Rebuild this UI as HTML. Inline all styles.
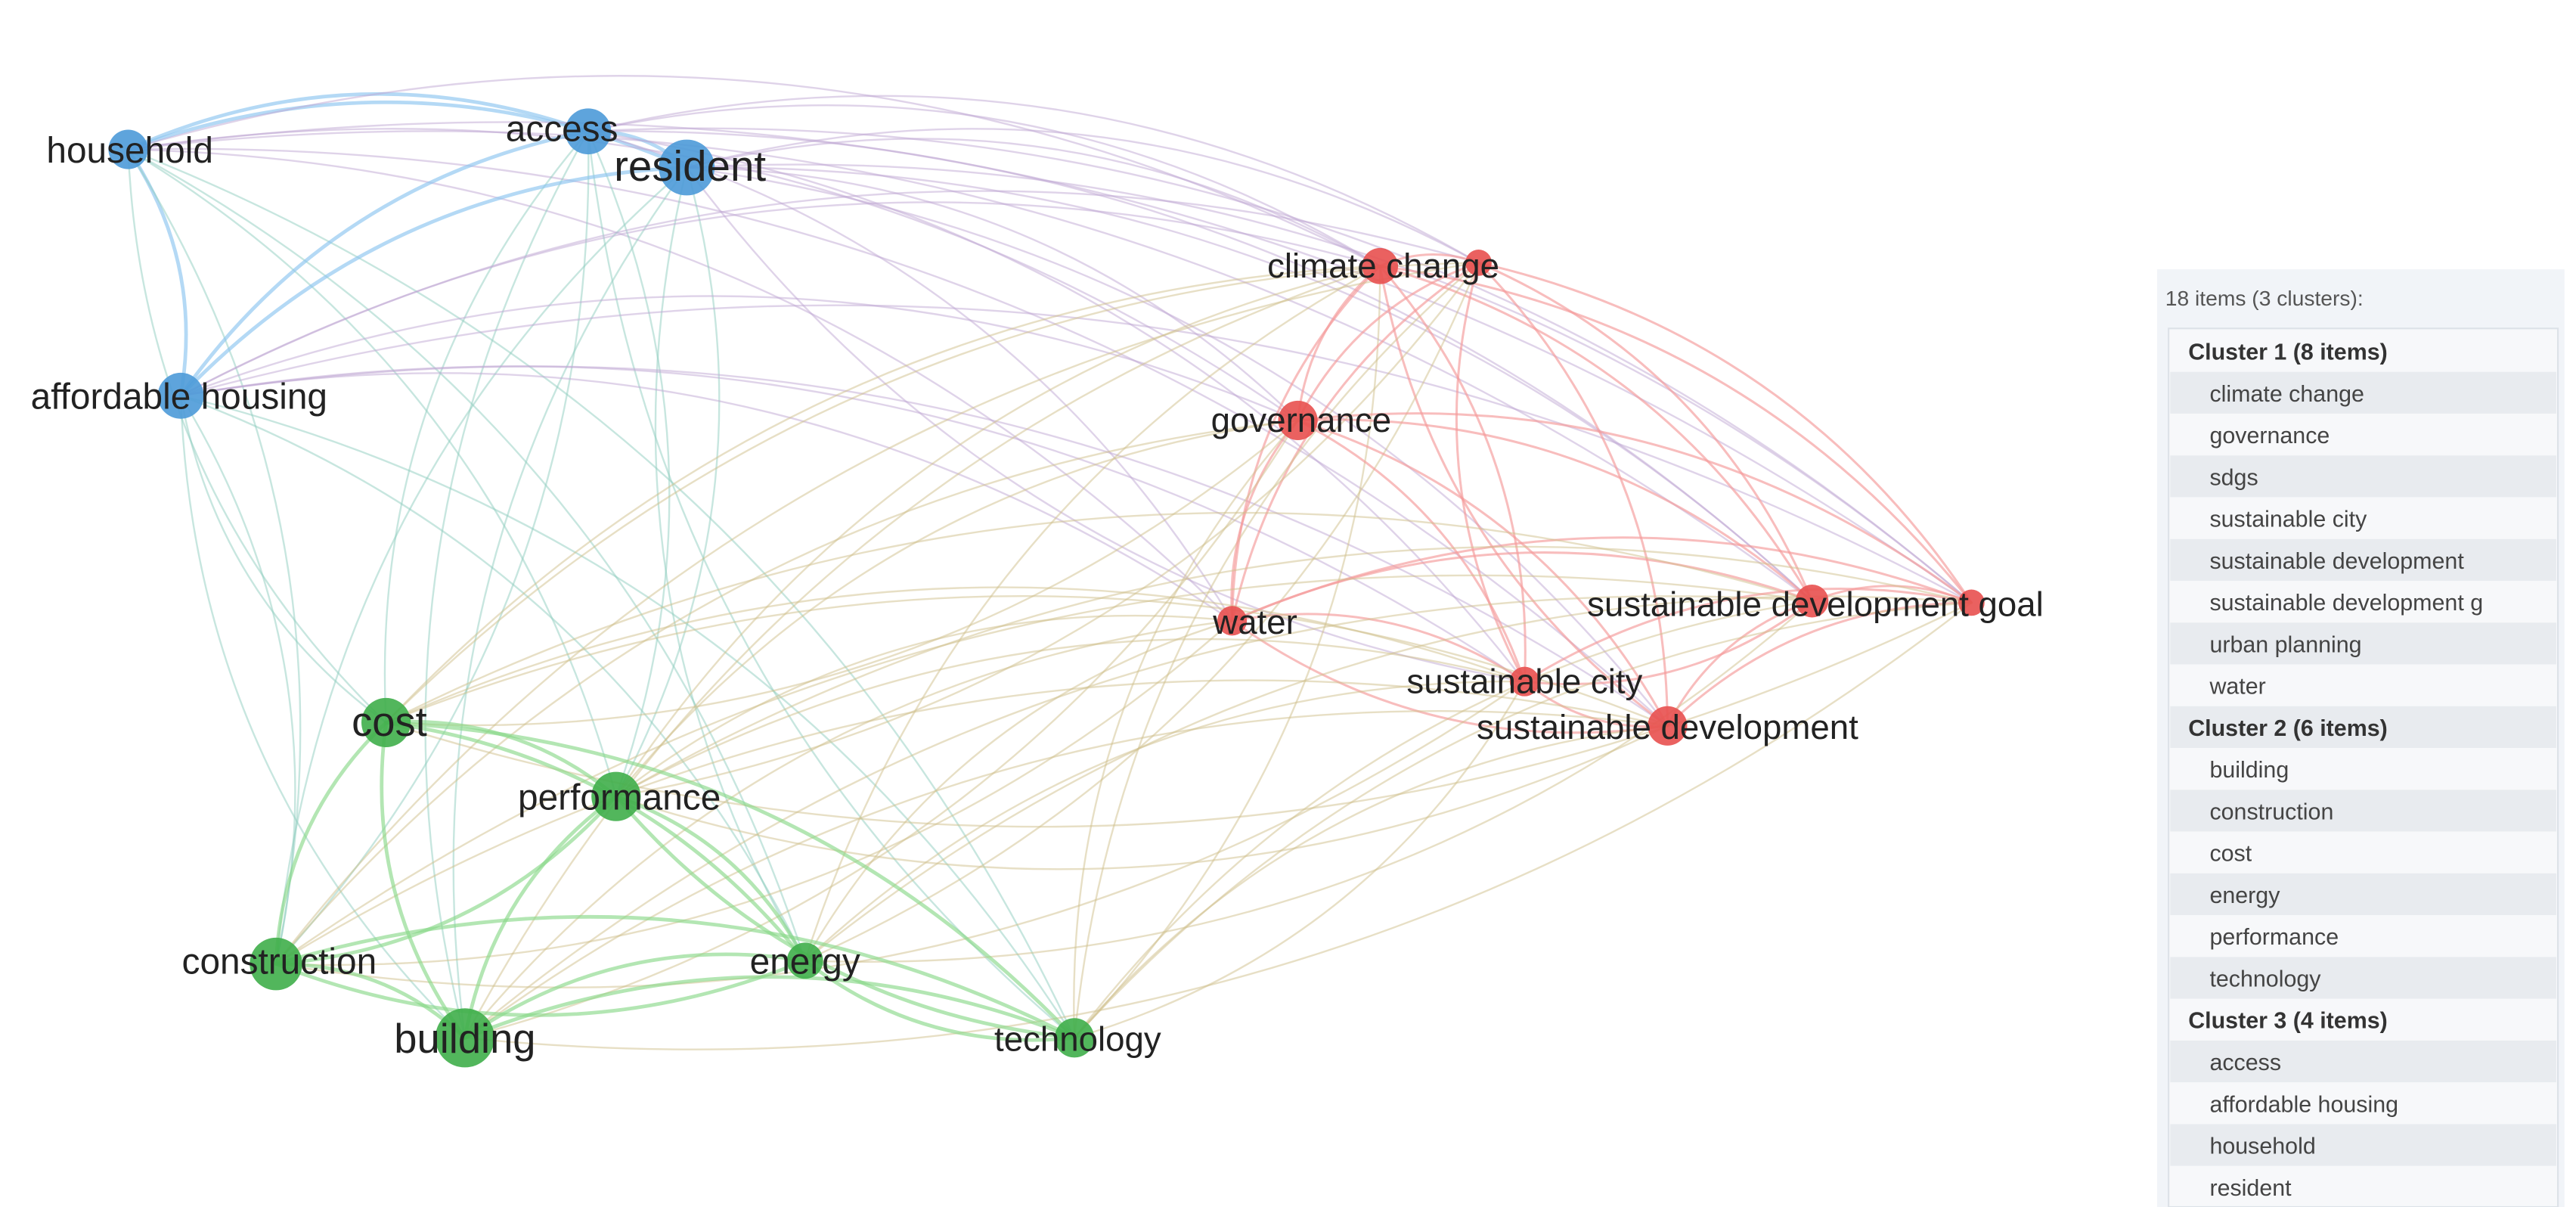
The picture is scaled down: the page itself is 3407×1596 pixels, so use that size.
<!DOCTYPE html>
<html><head><meta charset="utf-8">
<style>
html,body{margin:0;padding:0;background:#fff;}
body{width:3407px;height:1596px;overflow:hidden;position:relative;}
svg{position:absolute;left:0;top:0;}
text{font-family:"Liberation Sans",sans-serif;}
</style></head>
<body>
<svg id="s" width="3407" height="1596" viewBox="0 0 1568 735" preserveAspectRatio="none">
<g id="edges" fill="none" stroke-linecap="round"></g>
<g id="nodes"></g>
<g font-size="22" fill="#222">
<text x="79" y="99" text-anchor="middle">household</text>
<text x="342" y="86" text-anchor="middle">access</text>
<text x="420" y="110" text-anchor="middle" font-size="26">resident</text>
<text x="109" y="249" text-anchor="middle">affordable housing</text>
<text x="842" y="169" text-anchor="middle" font-size="21">climate change</text>
<text x="792" y="263" text-anchor="middle" font-size="21">governance</text>
<text x="764" y="386" text-anchor="middle" font-size="21">water</text>
<text x="1105" y="375" text-anchor="middle" font-size="21">sustainable development goal</text>
<text x="928" y="422" text-anchor="middle" font-size="21">sustainable city</text>
<text x="1015" y="450" text-anchor="middle" font-size="21">sustainable development</text>
<text x="237" y="448" text-anchor="middle" font-size="25">cost</text>
<text x="377" y="493" text-anchor="middle">performance</text>
<text x="170" y="593" text-anchor="middle">construction</text>
<text x="283" y="641" text-anchor="middle" font-size="25">building</text>
<text x="490" y="593" text-anchor="middle">energy</text>
<text x="656" y="640" text-anchor="middle" font-size="21">technology</text>
</g>
<rect x="1313" y="164" width="248" height="571" fill="#f1f4f8"/>
<text x="1318" y="186" font-size="13" fill="#555">18 items (3 clusters):</text>
<rect x="1320" y="200" width="237" height="535" fill="#f7f8fa" stroke="#dde2e8"/>
<g id="legend" font-size="14" fill="#444"></g>
</svg>
<script>
var N={
household:[78,91,12,'b'],access:[358,80,14,'b'],resident:[418,102,17,'b'],aff:[110,241,14,'b'],
cc:[840,162,11,'r'],sdgs:[900,160,8,'r'],gov:[790,256,12,'r'],water:[750,378,9,'r'],
sdg:[1103,366,10,'r'],goal:[1200,367,8,'r'],scity:[928,415,9,'r'],sd:[1015,442,12,'r'],
cost:[235,440,15,'g'],perf:[375,485,15,'g'],cons:[168,587,16,'g'],bld:[283,632,18,'g'],
energy:[490,585,11,'g'],tech:[654,632,12,'g']};
var C={b:'#8cc4ef',g:'#8ad88a',r:'#f59a9a'};
var M={bg:'#8fcdbf',br:'#c0a8d4',gr:'#d0bf8c'};
var NC={b:'#4d9ad8',g:'#3fae4a',r:'#e8504f'};
var keys=Object.keys(N),E=document.getElementById('edges'),ns='http://www.w3.org/2000/svg';
for(var i=0;i<keys.length;i++)for(var j=i+1;j<keys.length;j++){
 var a=N[keys[i]],b=N[keys[j]];
 if((i*7+j*3)%5==0 && a[3]!=b[3])continue;
 var x1=a[0],y1=a[1],x2=b[0],y2=b[1];
 if(x1>x2){var t=x1;x1=x2;x2=t;t=y1;y1=y2;y2=t;}
 var dx=x2-x1,dy=y2-y1;
 var k=0.2; if((i+j)%3==0 && (y1>400||y2>400)) k=-0.2;
 var cx=(x1+x2)/2+dy*k,cy=(y1+y2)/2-dx*k;
 var col,w,op;
 if(a[3]==b[3]){col=C[a[3]];w=a[3]=='r'?1.4:2.2;op=0.65;}
 else{var kk=[a[3],b[3]].sort().join('');col=M[kk];w=1.1;op=0.5;}
 var p=document.createElementNS(ns,'path');
 p.setAttribute('d','M'+x1+' '+y1+' Q'+cx+' '+cy+' '+x2+' '+y2);
 p.setAttribute('stroke',col);p.setAttribute('stroke-width',w);p.setAttribute('stroke-opacity',op);
 E.appendChild(p);
}
var G=document.getElementById('nodes');
keys.forEach(function(k){var n=N[k];var c=document.createElementNS(ns,'circle');
 c.setAttribute('cx',n[0]);c.setAttribute('cy',n[1]);c.setAttribute('r',n[2]);c.setAttribute('fill',NC[n[3]]);c.setAttribute('fill-opacity','0.9');G.appendChild(c);});
var items=[['Cluster 1 (8 items)',1],['climate change'],['governance'],['sdgs'],['sustainable city'],['sustainable development'],['sustainable development g'],['urban planning'],['water'],
['Cluster 2 (6 items)',1],['building'],['construction'],['cost'],['energy'],['performance'],['technology'],
['Cluster 3 (4 items)',1],['access'],['affordable housing'],['household'],['resident']];
var Lg=document.getElementById('legend');
items.forEach(function(it,i){var y=201+i*25.45;
 if(i%2==1){var r=document.createElementNS(ns,'rect');r.setAttribute('x',1321);r.setAttribute('y',y);r.setAttribute('width',235);r.setAttribute('height',25.4);r.setAttribute('fill','#e8ebef');Lg.appendChild(r);}
 var t=document.createElementNS(ns,'text');t.setAttribute('x',it[1]?1332:1345);t.setAttribute('y',y+18);
 if(it[1]){t.setAttribute('font-weight','bold');t.setAttribute('fill','#333');}
 t.textContent=it[0];Lg.appendChild(t);});
</script>
</body></html>
